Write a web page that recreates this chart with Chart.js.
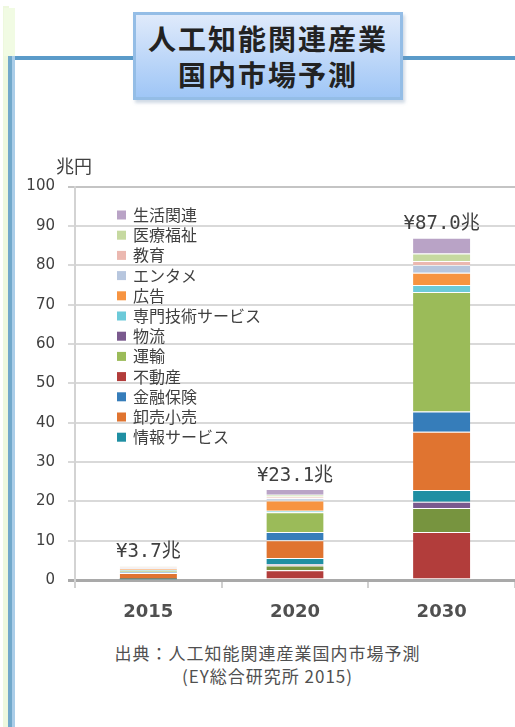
<!DOCTYPE html>
<html lang="ja">
<head>
<meta charset="utf-8">
<title>人工知能関連産業 国内市場予測</title>
<script src="https://cdn.jsdelivr.net/npm/chart.js@4.4.1/dist/chart.umd.min.js"></script>
<style>
  html, body { margin: 0; padding: 0; background: #fff; }
  body { width: 515px; height: 727px; position: relative; overflow: hidden; font-family: "Noto Sans CJK JP", sans-serif; }
  .edge { position: absolute; left: 3px; top: 6px; bottom: 0; width: 6px; background: #eef8de; }
  .edge-top { position: absolute; left: 4px; top: 8px; width: 11px; height: 48px; background: #f1fbe3; }
  .rule-h { position: absolute; top: 56px; height: 4px; background: #5b9bc9; }
  .rule-v { position: absolute; left: 8px; top: 56px; bottom: 0; width: 4px; background: #72a9cb; border-right: 3px solid #aacde8; }
  .title {
    position: absolute; left: 133px; top: 12px; width: 264px; height: 82px;
    border: 3px solid #94bde6;
    background: linear-gradient(#dfeafb, #9fc6f6);
    box-shadow: 2px 3px 3px rgba(120, 150, 180, .35);
    display: flex; flex-direction: column; align-items: center; justify-content: center;
    font-weight: 700; font-size: 28px; line-height: 36px; letter-spacing: 2px; color: #222;
  }
  #wrap { position: absolute; left: 0; top: 150px; width: 515px; height: 490px; }
  .source { position: absolute; left: 10px; width: 515px; top: 641px; text-align: center; font-size: 17px; line-height: 23px; letter-spacing: 1px; color: #505050; }
</style>
</head>
<body>
<div class="edge"></div>
<div class="edge-top"></div>
<div class="rule-h" style="left:10px;width:123px"></div>
<div class="rule-h" style="left:403px;width:112px"></div>
<div class="rule-v"></div>
<div class="title"><div>人工知能関連産業</div><div>国内市場予測</div></div>
<div id="wrap"><canvas id="chart" width="515" height="490"></canvas></div>
<div class="source">出典：人工知能関連産業国内市場予測<br>(EY総合研究所 2015)</div>

<script>
// 年ごとの市場規模（兆円）
const years = ['2015', '2020', '2030'];
const yMax = 100;
const yStep = 10;

const fudosan       = [0.0, 2.5, 12.2];  // 不動産
const sonota        = [0.0, 1.2, 6.1];
const butsuryu      = [0.0, 0.3, 1.6];   // 物流
const johoService   = [0.2, 1.6, 3.0];   // 情報サービス
const oroshiKouri   = [1.6, 4.5, 14.8];  // 卸売小売
const kinyuHoken    = [0.2, 2.1, 5.1];   // 金融保険
const unyu          = [0.3, 5.0, 30.4];  // 運輸
const senmonGijutsu = [0.2, 0.4, 1.8];   // 専門技術サービス
const koukoku       = [0.4, 2.6, 3.1];   // 広告
const entame        = [0.3, 0.6, 2.0];   // エンタメ
const kyouiku       = [0.2, 0.4, 1.0];   // 教育
const iryouFukushi  = [0.2, 0.5, 1.9];   // 医療福祉
const seikatsu      = [0.1, 1.4, 4.0];   // 生活関連

const legendOrder = ['生活関連', '医療福祉', '教育', 'エンタメ', '広告', '専門技術サービス',
                     '物流', '運輸', '不動産', '金融保険', '卸売小売', '情報サービス'];

// 下から積み上げる順
const series = [
  { name: '不動産', values: fudosan, color: '#b23d3b' },
  { name: 'その他', values: sonota, color: '#77943f', hidden: true },
  { name: '物流', values: butsuryu, color: '#7a5a8e' },
  { name: '情報サービス', values: johoService, color: '#1f8fa3' },
  { name: '卸売小売', values: oroshiKouri, color: '#e07430' },
  { name: '金融保険', values: kinyuHoken, color: '#367dba' },
  { name: '運輸', values: unyu, color: '#9bbb59' },
  { name: '専門技術サービス', values: senmonGijutsu, color: '#6ccad9' },
  { name: '広告', values: koukoku, color: '#f79441' },
  { name: 'エンタメ', values: entame, color: '#b7c6de' },
  { name: '教育', values: kyouiku, color: '#ebb8b0' },
  { name: '医療福祉', values: iryouFukushi, color: '#c6d9a0' },
  { name: '生活関連', values: seikatsu, color: '#b9a3c6' }
];

Chart.defaults.font.family = '"DejaVu Sans", sans-serif';

// 凡例・合計ラベル・単位
const overlay = {
  id: 'overlay',
  afterDatasetsDraw(chart) {
    const ctx = chart.ctx;
    const xs = chart.scales.x, ys = chart.scales.y;
    const area = chart.chartArea;
    ctx.save();

    ctx.fillStyle = '#404040';
    ctx.textAlign = 'center';
    ctx.textBaseline = 'bottom';
    ctx.font = '19px "DejaVu Sans Mono", "Noto Sans CJK JP"';
    years.forEach((yr, i) => {
      const total = chart.data.datasets.reduce((s, d) => s + d.data[i], 0);
      ctx.fillText('¥' + total.toFixed(1) + '兆', xs.getPixelForValue(i), ys.getPixelForValue(total) - 4);
    });

    ctx.textBaseline = 'middle';
    ctx.font = '18px "Noto Sans CJK JP"';
    ctx.fillText('兆円', 74, area.top - 20);

    ctx.textAlign = 'left';
    ctx.font = '16px "Noto Sans CJK JP"';
    const left = area.left + 42;
    const top = area.top + 28.4;
    legendOrder.forEach((name, i) => {
      const ds = chart.data.datasets.find(d => d.label === name);
      const cy = top + i * 20.2;
      ctx.fillStyle = ds.backgroundColor;
      ctx.fillRect(left, cy - 4.5, 9, 9);
      ctx.fillStyle = '#404040';
      ctx.fillText(name, left + 16, cy);
    });
    ctx.restore();
  }
};

new Chart(document.getElementById('chart'), {
  type: 'bar',
  data: {
    labels: years,
    datasets: series.map(s => ({
      label: s.name,
      data: s.values,
      backgroundColor: s.color,
      borderColor: 'rgba(255,255,255,0.5)',
      borderWidth: { top: 1, right: 0, bottom: 0, left: 0 },
      borderSkipped: 'bottom',
      barPercentage: 0.39,
      categoryPercentage: 1
    }))
  },
  options: {
    responsive: false,
    animation: false,
    layout: { padding: { top: 36.6, right: 0, bottom: 0, left: 0 } },
    plugins: {
      legend: { display: false },
      tooltip: { enabled: false }
    },
    scales: {
      x: {
        stacked: true,
        afterFit(scale) { scale.height = 60; },
        grid: { drawOnChartArea: false, tickLength: 8, color: '#d0d0d0', lineWidth: 2, offset: true },
        border: { display: false },
        ticks: { padding: 14, color: '#505050', font: { size: 18, weight: 'bold' } }
      },
      y: {
        stacked: true,
        min: 0,
        max: yMax,
        afterFit(scale) { scale.width = 75; },
        grid: {
          tickLength: 7,
          color: c => c.tick.value === 0 ? '#a9a9a9' : (c.tick.value === yMax ? '#c4c4c4' : '#d9d9d9'),
          lineWidth: c => c.tick.value === 0 ? 3 : 2
        },
        border: { display: true, color: '#d3d3d3', width: 2 },
        ticks: { stepSize: yStep, padding: 13, color: '#404040', font: { size: 15 } }
      }
    }
  },
  plugins: [overlay]
});
</script>
</body>
</html>
